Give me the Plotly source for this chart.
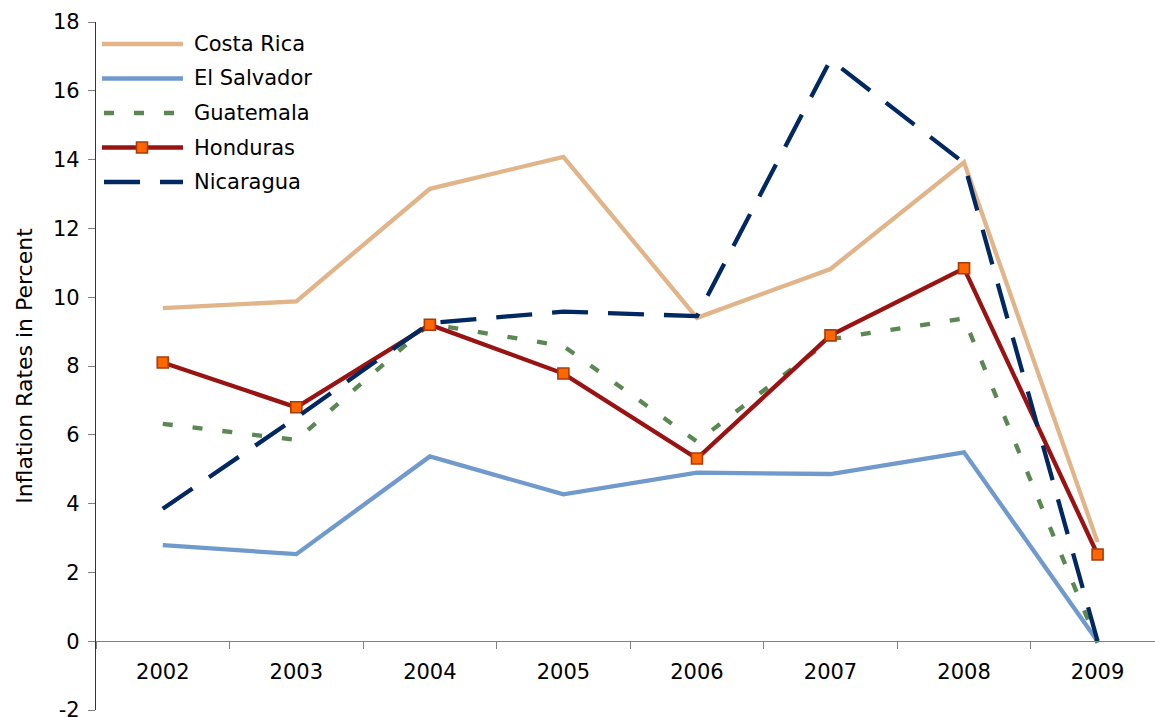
import plotly.graph_objects as go

years = ["2002", "2003", "2004", "2005", "2006", "2007", "2008", "2009"]
costa_rica = [9.68, 9.88, 13.15, 14.08, 9.40, 10.82, 13.92, 2.88]
el_salvador = [2.79, 2.53, 5.37, 4.27, 4.90, 4.86, 5.49, 0.0]
guatemala = [6.32, 5.85, 9.22, 8.58, 5.80, 8.78, 9.38, -0.05]
honduras = [8.10, 6.80, 9.20, 7.78, 5.31, 8.89, 10.84, 2.52]
nicaragua = [3.85, 6.50, 9.25, 9.58, 9.45, 16.90, 13.90, 0.0]
y_tick_values = [-2, 0, 2, 4, 6, 8, 10, 12, 14, 16, 18]
y_tick_labels = ["-2", "0", "2", "4", "6", "8", "10", "12", "14", "16", "18"]

series = [
    ("Costa Rica", costa_rica, "#E1B489", "solid", False),
    ("El Salvador", el_salvador, "#7099CC", "solid", False),
    ("Guatemala", guatemala, "#5B8752", "10px,20px", False),
    ("Honduras", honduras, "#9A1313", "solid", True),
    ("Nicaragua", nicaragua, "#022861", "36px,20px", False),
]

W, H = 1155, 717
ML, MR, MT, MB = 96, 0, 22, 7
FONT = "DejaVu Sans, Verdana, sans-serif"

fig = go.Figure()
for name, vals, color, dash, marker in series:
    fig.add_trace(go.Scatter(
        x=years, y=vals, name=name, mode="lines+markers" if marker else "lines",
        line=dict(color=color, width=4.3, dash=dash),
        marker=dict(symbol="square", size=11, color="#FF6600",
                    line=dict(color="#A83C08", width=1.6)),
        showlegend=False,
    ))

# manual legend (paper coordinates computed from pixel positions)
pw, ph = W - ML - MR, H - MT - MB
def px(x):
    return (x - ML) / pw
def py(y):
    return (H - MB - y) / ph

rows = [44, 78.5, 113, 147.5, 182]
shapes = []
annotations = []
for (name, vals, color, dash, marker), ry in zip(series, rows):
    x0 = 102 if dash == "solid" else 104
    shapes.append(dict(type="line", xref="paper", yref="paper",
                       x0=px(x0), x1=px(183), y0=py(ry), y1=py(ry),
                       line=dict(color=color, width=4.5, dash=dash)))
    if marker:
        shapes.append(dict(type="rect", xref="paper", yref="paper",
                           x0=px(136.5), x1=px(147.5), y0=py(ry + 5.5), y1=py(ry - 5.5),
                           fillcolor="#FF6600", line=dict(color="#A83C08", width=1.6)))
    annotations.append(dict(xref="paper", yref="paper", x=px(192), y=py(ry),
                            text=name, showarrow=False, xanchor="left", yanchor="middle",
                            font=dict(family=FONT, size=21, color="#000000")))

fig.update_layout(
    width=W, height=H,
    margin=dict(l=ML, r=MR, t=MT, b=MB),
    plot_bgcolor="white", paper_bgcolor="white",
    font=dict(family=FONT, size=21, color="#000000"),
    shapes=shapes, annotations=annotations,
    xaxis=dict(type="category", range=[-0.5, 7.43], anchor="free", position=0.1,
               showline=True, linecolor="#808080", linewidth=1.3, automargin=False,
               ticks="outside", tickson="boundaries", ticklen=7, tickcolor="#808080",
               tickwidth=1.3, showgrid=False, zeroline=False,
               ticklabelstandoff=11, tickfont=dict(family=FONT, size=21)),
    yaxis=dict(range=[-2, 18], tickmode="array", tickvals=y_tick_values, ticktext=y_tick_labels,
               showline=True, linecolor="#333333", linewidth=1.3,
               automargin=False, ticklabeloverflow="allow",
               ticks="outside", ticklen=7, tickcolor="#808080", tickwidth=1.3,
               showgrid=False, zeroline=False, ticklabelstandoff=4,
               tickfont=dict(family=FONT, size=21),
               title=dict(text="Inflation Rates in Percent", standoff=14,
                          font=dict(family=FONT, size=22))),
)

fig.write_html("out.html", config={"displayModeBar": False},
               post_script="document.body.style.margin='0px';document.body.style.overflow='hidden';")
